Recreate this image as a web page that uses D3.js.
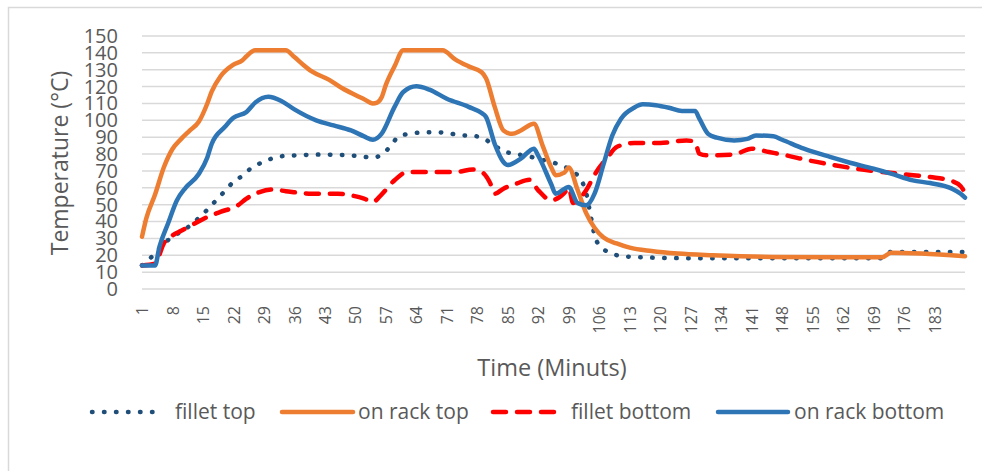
<!DOCTYPE html>
<html>
<head>
<meta charset="utf-8">
<script src="https://cdn.jsdelivr.net/npm/d3@7"></script>
<style>
    body { margin: 0; background: #fff; }
    text { font-family: "Open Sans", sans-serif; fill: #595959; }
</style>
</head>
<body>
<svg id="chart" width="982" height="471"></svg>
<script>
// [minute, temperature] pairs
const filletTop = [[1,14],[3,18.5],[5,24],[7,29],[9,32.5],[12,37.5],[14,42],[16,47],[18,52.5],[20,58],[22,63.5],[24,67],[26,71.5],[29,75.5],[31,77.5],[34,79],[37,79.3],[40,79.6],[43,79.7],[46,79.5],[49,79.2],[51,78.7],[54,78],[56,79.5],[58,84.5],[60,90.5],[63,92.2],[65,92.8],[68,93],[71,92.5],[74,91.2],[77,90.8],[79,89.8],[82,85],[84,81.8],[87,80],[90,78.5],[93,76.5],[96,74.5],[98,72.5],[100,69.5],[102,64],[103,57],[104,44],[105,31],[106,26],[108,22],[111,19.6],[114,19],[120,18.5],[130,18.2],[171,18.2],[173,22],[190,21.9]];

const onRackTop = [[1,31],[2,42],[4,56],[6,72],[8,83],[10,89],[12,94],[14,99],[16,110],[17,117],[19,126],[22,133],[24,135.5],[25,138],[27,141.5],[34,141.5],[36,137.5],[38,133],[40,129],[44,124],[47,119],[50,115],[52,112.5],[54,110],[55,110.5],[56,113.5],[57,121],[59,132],[61,141.5],[70,141.5],[73,136],[76,132],[79,128.5],[80,125],[82,108],[84,94],[86,92],[88,94],[91,98],[93,85],[95,72],[96,67.5],[98,69],[99,72],[101,59],[103,45],[105,36],[107,30.5],[110,27],[113,24.5],[118,22.5],[124,21],[132,20],[146,19],[171,18.8],[173,21.5],[180,21],[190,19.4]];

const filletBottom = [[1,14],[4,15],[6,27],[8,31.8],[10,34.5],[13,38.7],[16,42.7],[19,45.7],[23,49.6],[25,53.6],[28,57.5],[31,59],[34,58],[40,56.5],[46,56.5],[49,55.5],[52,53.6],[54,51.6],[56,56],[59,64.5],[62,69.4],[68,69.4],[73,69.4],[77,70.8],[79,69.4],[81,62.5],[82,56.5],[84,59.5],[87,62.5],[90,64.8],[92,58.5],[95,52.6],[98,57],[99,60],[100,51],[103,58.5],[105,68],[108,78.3],[110,84.2],[114,86.6],[120,86.6],[126,88.1],[128,87.2],[129,80.2],[131,79.2],[137,79.8],[141,83.2],[145,81.2],[149,79.2],[154,76.3],[159,73.9],[165,71.3],[171,69.4],[176,68],[182,66.4],[187,64],[189,61],[190,57]];

const onRackBottom = [[1,14],[4,14],[5,25],[7,39],[9,52.5],[11,60],[14,68],[16,78],[17,86],[20,96],[22,101.5],[25,105],[27,110.5],[30,114],[33,111.5],[36,106.5],[41,100],[45,97],[49,94],[52,90.5],[54,88.5],[56,92],[59,108],[61,116.8],[64,120.2],[67,118.2],[71,112.8],[76,108],[79,104.3],[80,102],[82,86],[84,75.3],[85,73.5],[88,77.3],[91,83.2],[92,79],[95,62],[96,56.5],[99,60.5],[101,51],[103,49.6],[105,57],[107,74],[109,91],[111,101],[114,107.5],[116,109.5],[119,109],[122,107.5],[125,105.5],[128,105.5],[129,101],[131,92],[133,89.7],[137,88.1],[140,89],[142,91],[146,90.5],[148,88.5],[153,83.2],[159,78.3],[163,75.3],[169,71.3],[173,68.4],[178,64.4],[182,62.8],[187,59.5],[189,56.5],[190,54.2]];

const seriesNames = ['fillet top', 'on rack top', 'fillet bottom', 'on rack bottom'];
const xTickValues = d3.range(1, 190, 7);   // 1, 8, ... 183
const yTickValues = d3.range(0, 151, 10);

class TemperatureChart {
    constructor() {
        this.MARGIN = {top: 36, right: 17, bottom: 182, left: 142};
        this.WIDTH = 982;
        this.HEIGHT = 471;

        this.series = [
            {name: seriesNames[0], data: filletTop, color: '#1f4e79', dash: '0.5 11.5'},
            {name: seriesNames[1], data: onRackTop, color: '#ed7d31', dash: null},
            {name: seriesNames[2], data: filletBottom, color: '#ff0000', dash: '13 11'},
            {name: seriesNames[3], data: onRackBottom, color: '#2e75b6', dash: null}
        ];

        this.xScale = d3.scaleLinear()
            .domain([1, 190])
            .range([this.MARGIN.left, this.WIDTH - this.MARGIN.right]);

        this.yScale = d3.scaleLinear()
            .domain([0, 150])
            .range([this.HEIGHT - this.MARGIN.bottom, this.MARGIN.top]);

        this.svg = d3.select('#chart');
        this.drawChart();
    }

    drawChart() {
        // chart border
        this.svg.append('rect')
            .attr('x', 8.5).attr('y', 7.5)
            .attr('width', 1000).attr('height', 500)
            .attr('fill', 'none')
            .attr('stroke', '#d9d9d9')
            .attr('stroke-width', 1.5);

        this.drawAxis();
        this.drawLines();
        this.drawLegend();
    }

    drawAxis() {
        // gridlines
        this.svg.append('g')
            .selectAll('line')
            .data(yTickValues)
            .join('line')
            .attr('x1', this.xScale.range()[0])
            .attr('x2', this.xScale.range()[1])
            .attr('y1', d => this.yScale(d))
            .attr('y2', d => this.yScale(d))
            .attr('stroke', '#d9d9d9')
            .attr('stroke-width', 1.5);

        let yAxis = d3.axisLeft(this.yScale)
            .tickValues(yTickValues)
            .tickSize(0)
            .tickPadding(0);
        let yG = this.svg.append('g')
            .attr('transform', `translate(${this.MARGIN.left - 24}, 0)`)
            .call(yAxis);
        yG.select('.domain').remove();
        yG.selectAll('text')
            .attr('font-size', 20)
            .attr('font-family', '"Open Sans", sans-serif')
            .attr('fill', '#595959');

        let xAxis = d3.axisBottom(this.xScale)
            .tickValues(xTickValues)
            .tickSize(0);
        let xG = this.svg.append('g')
            .attr('transform', `translate(0, ${this.HEIGHT - this.MARGIN.bottom})`)
            .call(xAxis);
        xG.select('.domain').remove();
        xG.selectAll('text')
            .attr('font-size', 16)
            .attr('font-family', '"Open Sans", sans-serif')
            .attr('fill', '#595959')
            .attr('text-anchor', 'end')
            .attr('transform', 'translate(0, 17) rotate(-90)')
            .attr('x', 0).attr('y', 0)
            .attr('dy', '0.35em');

        // axis titles
        this.svg.append('text')
            .attr('x', 552).attr('y', 376)
            .attr('text-anchor', 'middle')
            .attr('font-size', 23.5)
            .text('Time (Minuts)');

        this.svg.append('text')
            .attr('transform', 'translate(68, 163) rotate(-90)')
            .attr('text-anchor', 'middle')
            .attr('font-size', 23)
            .text('Temperature (°C)');
    }

    drawLines() {
        let line = d3.line()
            .x(d => this.xScale(d[0]))
            .y(d => this.yScale(d[1]))
            .curve(d3.curveMonotoneX);

        this.svg.append('g')
            .selectAll('path')
            .data(this.series)
            .join('path')
            .attr('d', d => line(d.data))
            .attr('fill', 'none')
            .attr('stroke', d => d.color)
            .attr('stroke-width', 4.5)
            .attr('stroke-linecap', 'round')
            .attr('stroke-linejoin', 'round')
            .attr('stroke-dasharray', d => d.dash);
    }

    drawLegend() {
        let legendX = [[92, 158, 175], [282, 353, 358], [493, 556, 571], [718, 788, 794]];
        let legendY = 412;
        let items = this.svg.append('g')
            .selectAll('g')
            .data(this.series)
            .join('g');

        items.append('line')
            .attr('x1', (d, i) => legendX[i][0])
            .attr('x2', (d, i) => legendX[i][1])
            .attr('y1', legendY).attr('y2', legendY)
            .attr('stroke', d => d.color)
            .attr('stroke-width', 4.5)
            .attr('stroke-linecap', 'round')
            .attr('stroke-dasharray', d => d.dash);

        items.append('text')
            .attr('x', (d, i) => legendX[i][2])
            .attr('y', legendY)
            .attr('dy', '0.35em')
            .attr('font-size', 21)
            .text(d => d.name);
    }
}

new TemperatureChart();
</script>
</body>
</html>
